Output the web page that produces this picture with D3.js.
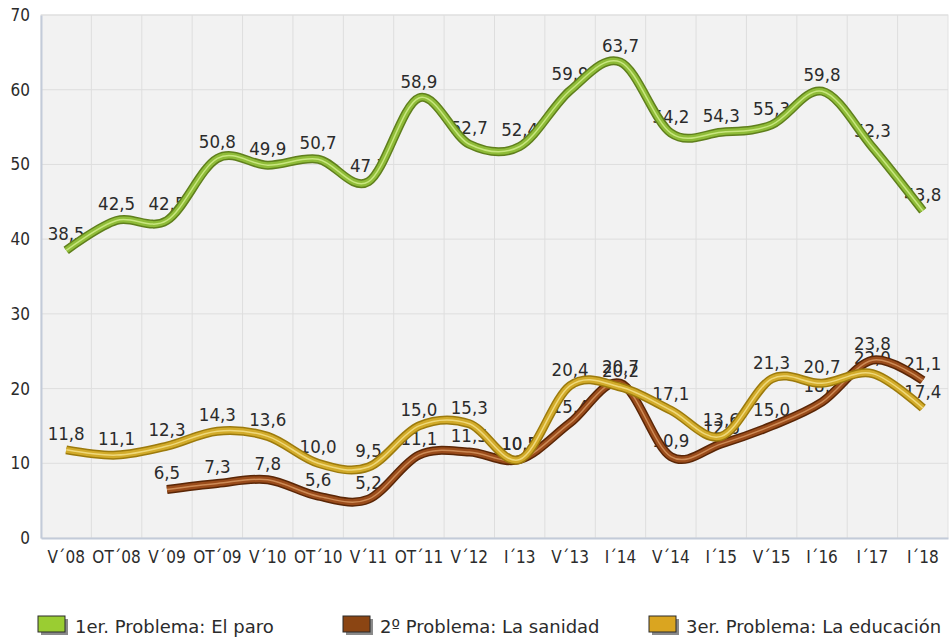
<!DOCTYPE html>
<html>
<head>
<meta charset="utf-8">
<script src="https://d3js.org/d3.v7.min.js"></script>
<style>
  body { margin: 0; background: #fff; }
  text { font-family: "DejaVu Sans Condensed", "DejaVu Sans", sans-serif; fill: #2b2b2b; }
</style>
</head>
<body>
<div class="chartHolder"></div>
<script>
const categories = ["V´08", "OT´08", "V´09", "OT´09", "V´10", "OT´10", "V´11", "OT´11", "V´12",
  "I´13", "V´13", "I´14", "V´14", "I´15", "V´15", "I´16", "I´17", "I´18"];

const paro = [38.5, 42.5, 42.5, 50.8, 49.9, 50.7, 47.7, 58.9, 52.7, 52.4, 59.9, 63.7, 54.2, 54.3, 55.3, 59.8, 52.3, 43.8];
const sanidad = [null, null, 6.5, 7.3, 7.8, 5.6, 5.2, 11.1, 11.5, 10.5, 15.4, 20.7, 10.9, 12.6, 15.0, 18.2, 23.8, 21.1];
const educacion = [11.8, 11.1, 12.3, 14.3, 13.6, 10.0, 9.5, 15.0, 15.3, 10.5, 20.4, 20.2, 17.1, 13.6, 21.3, 20.7, 22.0, 17.4];

const yTicks = [0, 10, 20, 30, 40, 50, 60, 70];
const legendLabels = ["1er. Problema: El paro", "2º Problema: La sanidad", "3er. Problema: La educación"];

const width = 952;
const height = 643;
const plotLeft = 41, plotRight = 948, plotTop = 15, plotBottom = 538;

const svg = d3.select('.chartHolder')
  .append('svg')
  .attr('width', width)
  .attr('height', height);

const xScale = d3.scaleBand()
  .domain(categories)
  .range([plotLeft, plotRight]);

const yScale = d3.scaleLinear()
  .domain([0, 70])
  .range([plotBottom, plotTop]);

// plot background
svg.append('rect')
  .attr('x', plotLeft).attr('y', plotTop)
  .attr('width', plotRight - plotLeft).attr('height', plotBottom - plotTop)
  .attr('fill', '#f2f2f2')
  .attr('stroke', '#e2e2e2');

// grid
svg.append('g')
  .selectAll('line')
  .data(yTicks.slice(1))
  .enter()
  .append('line')
  .attr('x1', plotLeft).attr('x2', plotRight)
  .attr('y1', d => yScale(d)).attr('y2', d => yScale(d))
  .attr('stroke', '#dedede');

svg.append('g')
  .selectAll('line')
  .data(categories.slice(1))
  .enter()
  .append('line')
  .attr('x1', d => xScale(d)).attr('x2', d => xScale(d))
  .attr('y1', plotTop).attr('y2', plotBottom)
  .attr('stroke', '#dedede');

// axes
const yAxis = d3.axisLeft(yScale).tickValues(yTicks).tickSize(0).tickPadding(11);
const yAxisGroup = svg.append('g')
  .attr('transform', `translate(${plotLeft}, 0)`)
  .call(yAxis);
yAxisGroup.select('.domain').attr('stroke', '#c3cbd9').attr('stroke-width', 2);
yAxisGroup.selectAll('text').style('font-size', '17px');

const xAxis = d3.axisBottom(xScale).tickSize(0).tickPadding(13);
const xAxisGroup = svg.append('g')
  .attr('transform', `translate(0, ${plotBottom})`)
  .call(xAxis);
xAxisGroup.select('.domain').attr('stroke', '#c3cbd9').attr('stroke-width', 2);
xAxisGroup.selectAll('text').style('font-size', '17px');

const series = [
  { values: paro, dark: '#5f7f1c', mid: '#8fbc38', light: '#d6f090' },
  { values: sanidad, dark: '#5a2606', mid: '#9a4c1b', light: '#d99a64' },
  { values: educacion, dark: '#9c7a0c', mid: '#d2ab2a', light: '#f6e48e' }
];

const fmt = v => v.toFixed(1).replace('.', ',');

// data labels (drawn under the lines)
series.forEach(s => {
  svg.append('g')
    .selectAll('text')
    .data(s.values.map((v, i) => ({ v: v, c: categories[i] })).filter(d => d.v !== null))
    .enter()
    .append('text')
    .attr('x', d => xScale(d.c) + xScale.bandwidth() / 2)
    .attr('y', d => yScale(d.v) - 10)
    .attr('text-anchor', 'middle')
    .style('font-size', '18.5px')
    .text(d => fmt(d.v));
});

const line = d3.line()
  .defined(d => d !== null)
  .x((d, i) => xScale(categories[i]) + xScale.bandwidth() / 2)
  .y(d => yScale(d))
  .curve(d3.curveCardinal);

series.forEach(s => {
  const g = svg.append('g').attr('fill', 'none');
  g.append('path').attr('d', line(s.values)).attr('stroke', s.dark).attr('stroke-width', 9);
  g.append('path').attr('d', line(s.values)).attr('stroke', s.mid).attr('stroke-width', 6);
  g.append('path').attr('d', line(s.values)).attr('stroke', s.light).attr('stroke-width', 1.5).attr('opacity', 0.8);
});

// legend
const legendX = [38, 343, 649];
const legendColors = ['#9acd32', '#8b4513', '#daa520'];
const legend = svg.append('g')
  .selectAll('g')
  .data(legendLabels)
  .enter()
  .append('g')
  .attr('transform', (d, i) => `translate(${legendX[i]}, 616)`);

legend.append('rect')
  .attr('x', 3).attr('y', 3).attr('width', 27).attr('height', 16)
  .attr('fill', '#8a8a8a');
legend.append('rect')
  .attr('width', 27).attr('height', 16)
  .attr('fill', (d, i) => legendColors[i])
  .attr('stroke', '#2a2a2a').attr('stroke-width', 1);
legend.append('text')
  .attr('x', 37).attr('y', 17)
  .style('font-family', '"DejaVu Sans", sans-serif')
  .style('font-size', '18px')
  .text(d => d);
</script>
</body>
</html>
